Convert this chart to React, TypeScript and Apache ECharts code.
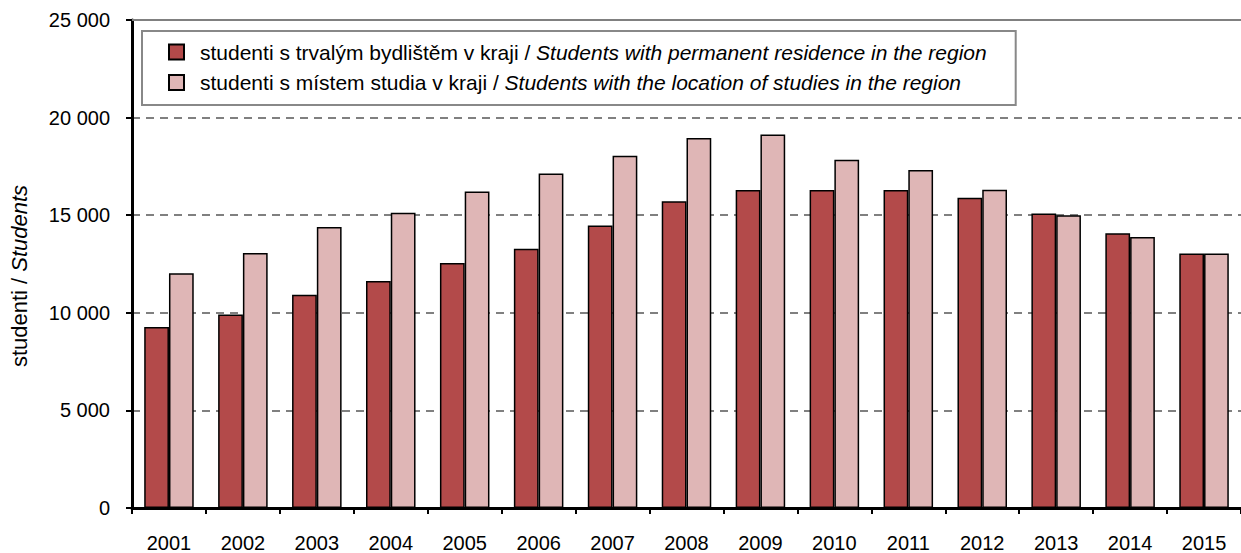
import React, { useEffect, useRef } from "react";
import * as echarts from "echarts";

const years = ["2001","2002","2003","2004","2005","2006","2007","2008","2009","2010","2011","2012","2013","2014","2015"];
const residence = [9270, 9910, 10920, 11630, 12550, 13280, 14470, 15710, 16290, 16290, 16290, 15900, 15090, 14080, 13040];
const studyLocation = [12030, 13060, 14390, 15120, 16210, 17130, 18040, 18950, 19130, 17840, 17310, 16310, 15000, 13880, 13040];
const seriesNames = [
  "studenti s trvalým bydlištěm v kraji / Students with permanent residence in the region",
  "studenti s místem studia v kraji / Students with the location of studies in the region",
];
const yAxisTitleCz = "studenti / ";
const yAxisTitleEn = "Students";

const FONT = "'Liberation Sans', Arial, sans-serif";

function fmt(v: number): string {
  return String(v).replace(/\B(?=(\d{3})+(?!\d))/g, " ");
}

export default function App() {
  const ref = useRef<HTMLDivElement>(null);
  useEffect(() => {
    if (!ref.current) return;
    const chart = echarts.init(ref.current, undefined, { renderer: "svg" });
    const barStyle = (color: string) => ({ color, borderColor: "#000", borderWidth: 1.5 });
    chart.setOption({
      animation: false,
      textStyle: { fontFamily: FONT },
      grid: { left: 132, top: 20, width: 1117, height: 490, containLabel: false },
      legend: {
        orient: "vertical",
        left: 142,
        top: 31,
        padding: [10.5, 29, 12, 26],
        itemWidth: 15,
        itemHeight: 15,
        itemGap: 9.5,
        icon: "rect",
        borderColor: "#888",
        borderWidth: 2,
        backgroundColor: "#fff",
        data: seriesNames,
        formatter: (name: string) => {
          const [cz, en] = name.split(" / ");
          return `{n|${cz} / }{i|${en}}`;
        },
        textStyle: {
          fontFamily: FONT,
          fontSize: 21,
          color: "#000",
          padding: [0, 0, 0, 11],
          rich: {
            n: { fontFamily: FONT, fontSize: 21, color: "#000", lineHeight: 20 },
            i: { fontFamily: FONT, fontSize: 21, color: "#000", fontStyle: "italic", lineHeight: 20 },
          },
        },
      },
      xAxis: {
        type: "category",
        data: years,
        axisLine: { show: true, lineStyle: { color: "#000", width: 3 } },
        axisTick: { show: true, interval: 0, length: 6, lineStyle: { color: "#000", width: 2 } },
        axisLabel: { fontFamily: FONT, fontSize: 20, color: "#000", margin: 25, interval: 0 },
        splitLine: { show: false },
      },
      yAxis: {
        type: "value",
        min: 0,
        max: 25000,
        interval: 5000,
        name: `{a|${yAxisTitleCz}}{b|${yAxisTitleEn}}`,
        nameLocation: "middle",
        nameGap: 102,
        nameRotate: 90,
        nameTextStyle: {
          padding: [0, 24, 0, 0],
          rich: {
            a: { fontFamily: FONT, fontSize: 22, color: "#000" },
            b: { fontFamily: FONT, fontSize: 22, color: "#000", fontStyle: "italic" },
          },
        },
        axisLine: { show: true, lineStyle: { color: "#000", width: 3 } },
        axisTick: { show: true, length: 6, lineStyle: { color: "#000", width: 2 } },
        axisLabel: { fontFamily: FONT, fontSize: 20, color: "#000", margin: 22, formatter: (v: number) => fmt(v) },
        splitLine: { show: true, lineStyle: { color: "#808080", width: 2, type: [8, 6] } },
      },
      series: [
        {
          name: seriesNames[0],
          type: "bar",
          data: residence,
          barGap: "0%",
          barCategoryGap: "33%",
          itemStyle: barStyle("#b34a4a"),
          markLine: {
            silent: true,
            symbol: "none",
            label: { show: false },
            lineStyle: { color: "#808080", width: 2, type: "solid" },
            data: [{ yAxis: 25000 }],
          },
        },
        {
          name: seriesNames[1],
          type: "bar",
          data: studyLocation,
          barGap: "0%",
          barCategoryGap: "33%",
          itemStyle: barStyle("#dfb6b6"),
        },
      ],
    });
    return () => chart.dispose();
  }, []);
  return (
    <div
      ref={ref}
      style={{ position: "fixed", left: 0, top: 0, width: 1241, height: 553, background: "#fff" }}
    />
  );
}
